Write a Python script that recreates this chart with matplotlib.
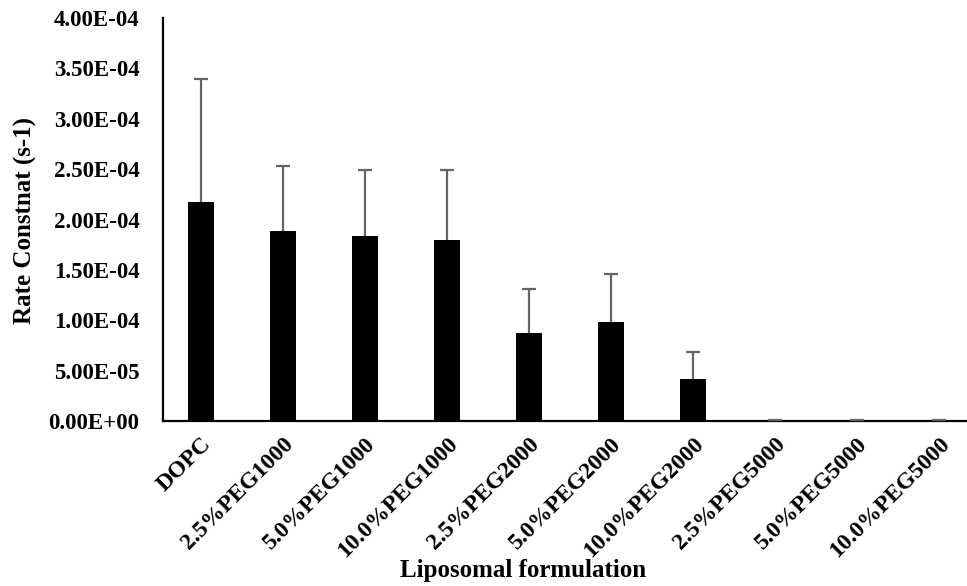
import numpy as np
import matplotlib
matplotlib.use('Agg')
import matplotlib.pyplot as plt
from matplotlib.ticker import FuncFormatter

# data
formulations = ['DOPC', '2.5%PEG1000', '5.0%PEG1000', '10.0%PEG1000',
                '2.5%PEG2000', '5.0%PEG2000', '10.0%PEG2000',
                '2.5%PEG5000', '5.0%PEG5000', '10.0%PEG5000']
rate = [2.17e-4, 1.89e-4, 1.84e-4, 1.80e-4, 8.7e-5, 9.8e-5, 4.2e-5,
        6e-7, 6e-7, 6e-7]
rate_err = [1.22e-4, 6.4e-5, 6.5e-5, 6.9e-5, 4.4e-5, 4.8e-5, 2.6e-5,
            3e-7, 3e-7, 3e-7]

plt.rcParams['font.family'] = ['Liberation Serif', 'DejaVu Serif']
plt.rcParams['font.weight'] = 'bold'

fig = plt.figure(figsize=(9.67, 5.86), dpi=100)
ax = fig.add_axes([163/967, 1 - 421/586, (967-163)/967, (421-18)/586])

x = np.arange(len(formulations))
ax.bar(x, rate, width=0.32, color='black', zorder=2)
# only the upper half of the error bar is shown
_, caps, _ = ax.errorbar(x, rate, yerr=[np.zeros(len(rate)), rate_err], fmt='none',
                         ecolor='#646464', elinewidth=1.6, capsize=4.8,
                         capthick=1.6, zorder=3)
caps[0].set_visible(False)

ax.set_xlim(-0.463, 9.34)
ax.set_ylim(0, 4.0e-4)
ax.set_yticks(np.arange(0, 4.01e-4, 5e-5))
ax.yaxis.set_major_formatter(FuncFormatter(lambda v, pos: '%.2E' % v))

ax.set_xticks(x)
ax.set_xticklabels(formulations, rotation=45, ha='right', rotation_mode='anchor',
                   fontsize=17, fontweight='bold')
for lbl in ax.get_yticklabels():
    lbl.set_fontsize(16.5)
    lbl.set_fontweight('bold')

ax.tick_params(axis='both', length=0)
ax.tick_params(axis='x', pad=9)
ax.tick_params(axis='y', pad=17)

for side in ['top', 'right']:
    ax.spines[side].set_visible(False)
for side in ['left', 'bottom']:
    ax.spines[side].set_linewidth(1.6)
    ax.spines[side].set_color('black')

fig.text(25/967, 1 - 221/586, 'Rate Constnat (s-1)', rotation=90, ha='center',
         va='center', fontsize=18, fontweight='bold')
fig.text(523/967, 1 - 570/586, 'Liposomal formulation', ha='center', va='center',
         fontsize=18, fontweight='bold')

fig.savefig('out.png', dpi=100)
